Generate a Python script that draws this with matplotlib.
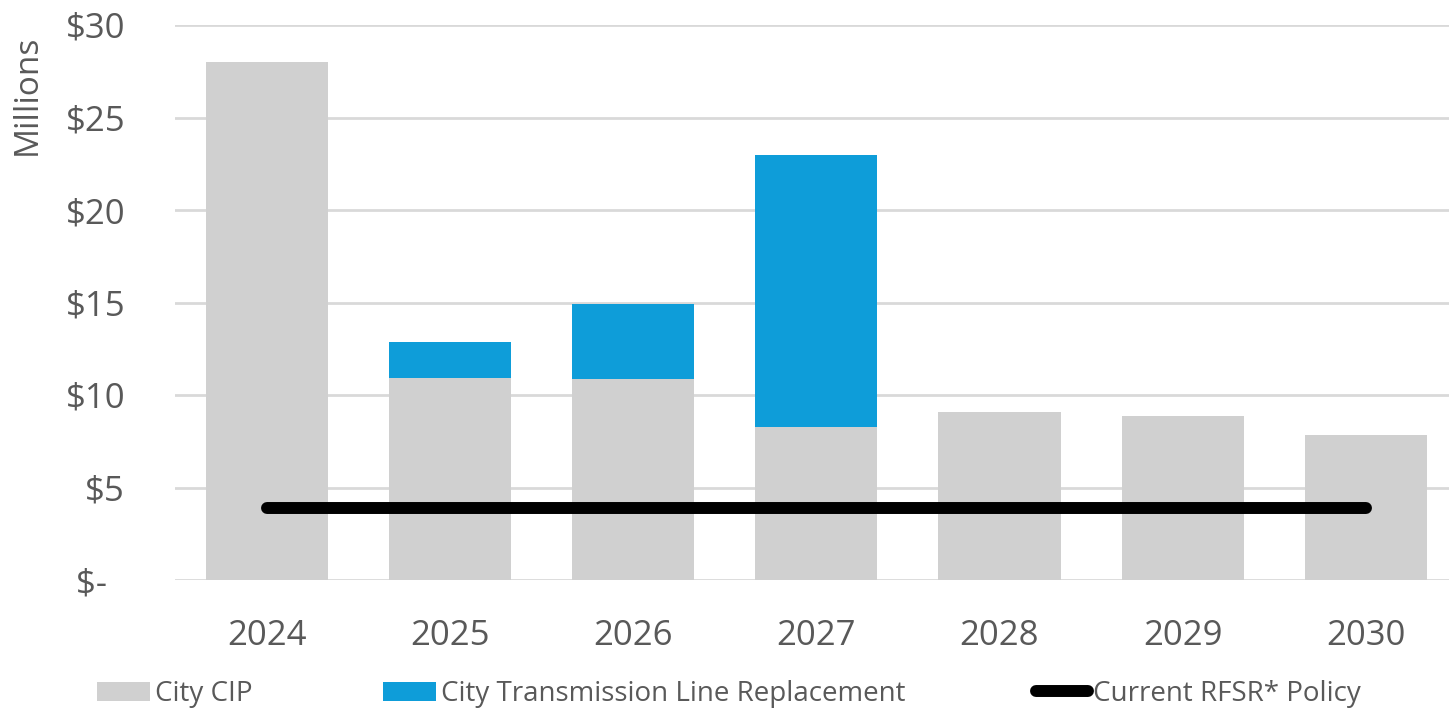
import matplotlib
matplotlib.use("Agg")
import matplotlib.pyplot as plt
from matplotlib.patches import Patch
from matplotlib.lines import Line2D
import numpy as np

years = ["2024", "2025", "2026", "2027", "2028", "2029", "2030"]
city_cip = [28.0, 10.9, 10.85, 8.25, 9.1, 8.85, 7.85]
transmission = [0.0, 1.95, 4.05, 14.7, 0.0, 0.0, 0.0]
rfsr_policy = [3.9, 3.9, 3.9, 3.9, 3.9, 3.9, 3.9]
ytick_vals = [0, 5, 10, 15, 20, 25, 30]
ytick_labels = ["$-  ", "$5", "$10", "$15", "$20", "$25", "$30"]

plt.rcParams['font.family'] = ['Open Sans', 'DejaVu Sans']
text_color = "#595959"
gray = "#D0D0D0"
blue = "#0E9DD9"

fig = plt.figure(figsize=(14.49, 7.11), dpi=100)
ax = fig.add_axes([175/1449, 1-580/711, (1457.5-175)/1449, (580-25)/711])

x = np.arange(len(years))
w = 0.667
ax.bar(x, city_cip, width=w, color=gray, zorder=2)
ax.bar(x, transmission, width=w, bottom=city_cip, color=blue, zorder=2)
ax.plot(x, rfsr_policy, color="black", linewidth=8.6, solid_capstyle="round", zorder=3)

ax.set_xlim(-0.5, len(years) - 0.5)
ax.set_ylim(0, 30)
ax.set_yticks(ytick_vals)
ax.set_yticklabels(ytick_labels)
ax.set_xticks(x)
ax.set_xticklabels(years)
ax.grid(axis="y", color="#D9D9D9", linewidth=2, zorder=0)
ax.set_axisbelow(True)
for s in ax.spines.values():
    s.set_visible(False)
ax.tick_params(axis="both", length=0, labelsize=25, labelcolor=text_color)
ax.tick_params(axis="y", pad=36)
ax.tick_params(axis="x", pad=28)

fig.text(27/1449, 1-95/711, "Millions", rotation=90, ha="center", va="center",
         fontsize=24, color=text_color)

handles = [Patch(facecolor=gray), Patch(facecolor=blue),
           Line2D([0], [0], color="black", linewidth=8.6, solid_capstyle="round")]
labels = ["City CIP", "City Transmission Line Replacement", "Current RFSR* Policy"]
leg = fig.legend(handles, labels, loc="center left", bbox_to_anchor=(97/1449, 1-694/711),
                 ncol=3, frameon=False, fontsize=20, handlelength=1.9, handleheight=0.7,
                 handletextpad=0.18, columnspacing=4.7, borderaxespad=0, borderpad=0)
for t in leg.get_texts():
    t.set_color(text_color)

fig.savefig("out.png", dpi=100)
